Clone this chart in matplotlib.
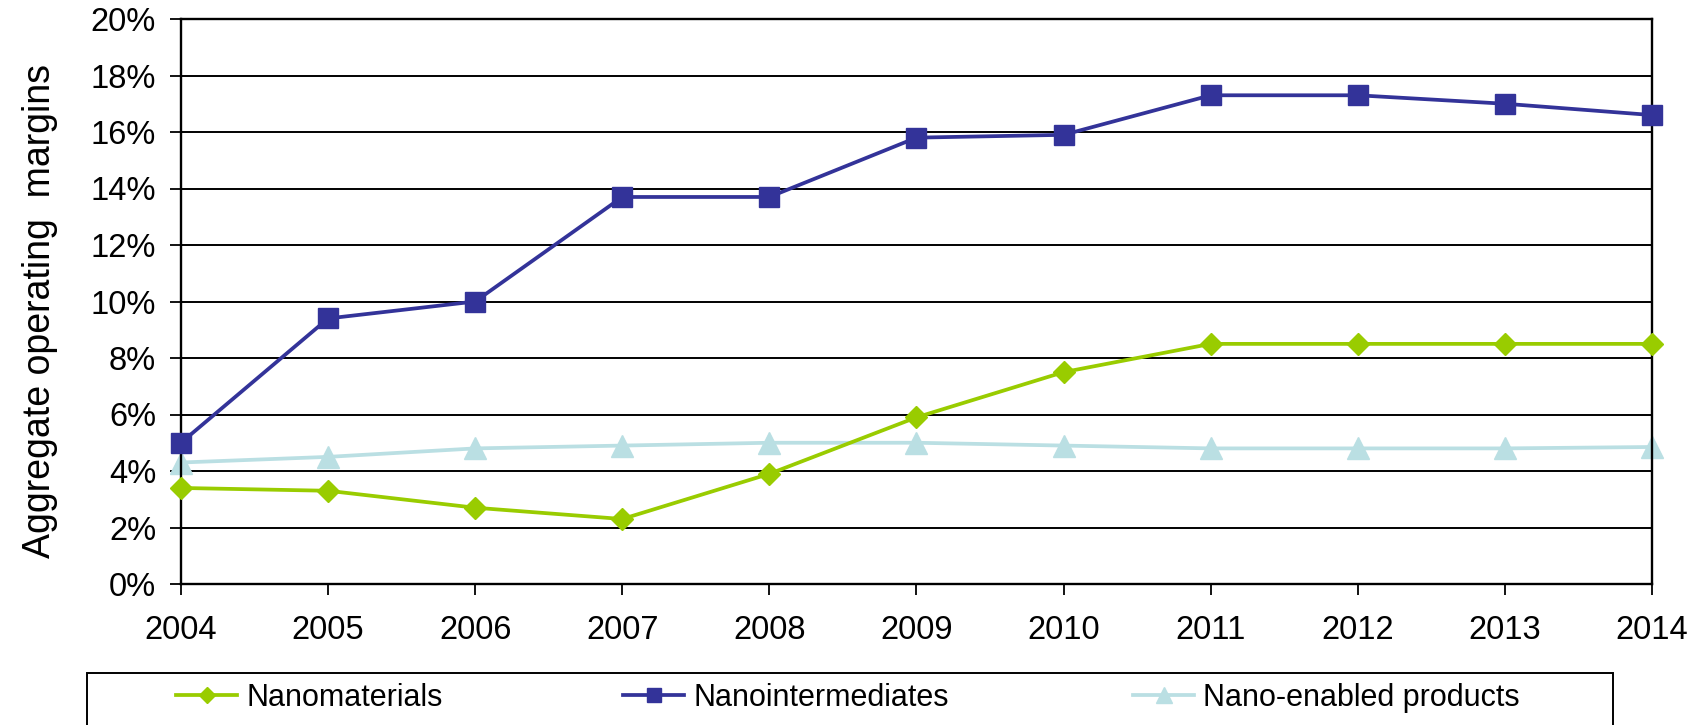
import matplotlib
matplotlib.use("Agg")
import matplotlib.pyplot as plt
from matplotlib.patches import Rectangle
from matplotlib.ticker import FuncFormatter

plt.rcParams['font.family'] = ['Liberation Sans', 'DejaVu Sans']

years = [2004, 2005, 2006, 2007, 2008, 2009, 2010, 2011, 2012, 2013, 2014]
nanomaterials = [3.4, 3.3, 2.7, 2.3, 3.9, 5.9, 7.5, 8.5, 8.5, 8.5, 8.5]
nanointermediates = [5.0, 9.4, 10.0, 13.7, 13.7, 15.8, 15.9, 17.3, 17.3, 17.0, 16.6]
nano_enabled = [4.3, 4.5, 4.8, 4.9, 5.0, 5.0, 4.9, 4.8, 4.8, 4.8, 4.85]
y_ticks = [0, 2, 4, 6, 8, 10, 12, 14, 16, 18, 20]

W, H = 1701, 725
fig = plt.figure(figsize=(W / 100, H / 100), dpi=100)
ax = fig.add_axes([181 / W, 1 - 584 / H, (1652 - 181) / W, (584 - 19) / H])

ax.plot(years, nanomaterials, color='#99CC00', lw=2.7, marker='D', ms=11.5,
        label='Nanomaterials', zorder=3, clip_on=False)
ax.plot(years, nanointermediates, color='#333399', lw=2.7, marker='s', ms=14,
        label='Nanointermediates', zorder=4, clip_on=False)
ax.plot(years, nano_enabled, color='#BADFE3', lw=2.7, marker='^', ms=16,
        label='Nano-enabled products', zorder=2, clip_on=False)

ax.set_xlim(years[0], years[-1])
ax.set_ylim(0, 20)
ax.set_xticks(years)
ax.set_yticks(y_ticks)
ax.yaxis.set_major_formatter(FuncFormatter(lambda v, p: f"{v:.0f}%"))
ax.grid(axis='y', color='black', lw=1.4)
ax.set_axisbelow(True)
for s in ax.spines.values():
    s.set_linewidth(1.7)
    s.set_color('black')

ax.tick_params(axis='both', direction='out', length=8, width=1.3, labelsize=23.5,
               colors='black')
ax.tick_params(axis='y', pad=10)
ax.tick_params(axis='x', pad=14)

ax.set_ylabel('Aggregate operating  margins', fontsize=27)
ax.yaxis.set_label_coords((58 - 181) / 1471, (584 - 311) / 565)

# legend frame running off the bottom edge
fig.patches.append(Rectangle((87 / W, -0.05), (1613 - 87) / W, 0.05 + 1 - 673 / H,
                             transform=fig.transFigure, fill=False,
                             edgecolor='black', lw=1.4))

# one legend entry per slot inside the frame
handles, labels = ax.get_legend_handles_labels()
for h, lab, x0 in zip(handles, labels, [176, 623, 1133]):
    fig.legend([h], [lab], loc='center left', frameon=False,
               bbox_to_anchor=(x0 / W, 1 - 698 / H),
               fontsize=22, handlelength=2.0, handletextpad=0.3,
               markerscale=0.75, borderpad=0, borderaxespad=0)

fig.savefig('out.png', dpi=100)
